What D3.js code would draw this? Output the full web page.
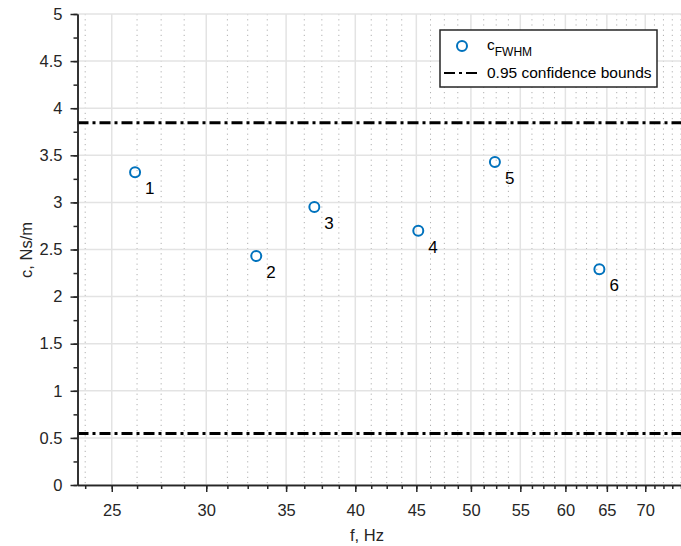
<!DOCTYPE html>
<html>
<head>
<meta charset="utf-8">
<script src="https://cdn.jsdelivr.net/npm/d3@7"></script>
<style>
  html, body { margin: 0; padding: 0; background: #fff; }
  svg { display: block; font-family: "Liberation Sans", Arial, sans-serif; }
</style>
</head>
<body>
<svg id="chart" width="681" height="546"></svg>
<script>
// ---- data ----
const pointLabels = ["1", "2", "3", "4", "5", "6"];
const frequency = [26.15, 33.04, 36.96, 45.17, 52.37, 64.07];
const damping = [3.32, 2.43, 2.95, 2.70, 3.43, 2.29];
const confidenceBounds = [3.845, 0.547];
const xTickValues = [25, 30, 35, 40, 45, 50, 55, 60, 65, 70];
const xMinorValues = d3.range(23.75, 75.01, 1.25);
const yTickValues = [0, 0.5, 1, 1.5, 2, 2.5, 3, 3.5, 4, 4.5, 5];
const yMinorValues = d3.range(0, 5.001, 0.25);
const xDomain = [23.4, 75];
const yDomain = [0, 5];

// ---- layout ----
const svg = d3.select("#chart");
const mLeft = 77.5, mRight = 681, mTop = 14, mBottom = 485;
const x = d3.scaleLog().domain(xDomain).range([mLeft, mRight]);
const y = d3.scaleLinear().domain(yDomain).range([mBottom, mTop]);
const axisColor = "#262626";

// minor x grid (dotted)
svg.append("g").selectAll("line")
  .data(xMinorValues.filter(v => !xTickValues.some(t => Math.abs(t - v) < 1e-6)))
  .join("line")
  .attr("x1", d => x(d)).attr("x2", d => x(d))
  .attr("y1", mTop).attr("y2", mBottom)
  .attr("stroke", "#b0b0b0").attr("stroke-width", 1)
  .attr("stroke-dasharray", "1.2,4");

// major grid
svg.append("g").selectAll("line")
  .data(xTickValues).join("line")
  .attr("x1", d => x(d)).attr("x2", d => x(d))
  .attr("y1", mTop).attr("y2", mBottom)
  .attr("stroke", "#e3e3e3").attr("stroke-width", 1.5);
svg.append("g").selectAll("line")
  .data(yTickValues).join("line")
  .attr("x1", mLeft).attr("x2", mRight)
  .attr("y1", d => y(d)).attr("y2", d => y(d))
  .attr("stroke", "#e3e3e3").attr("stroke-width", 1.5);

// confidence bounds
svg.append("g").selectAll("line")
  .data(confidenceBounds).join("line")
  .attr("x1", mLeft).attr("x2", mRight)
  .attr("y1", d => y(d)).attr("y2", d => y(d))
  .attr("stroke", "#000").attr("stroke-width", 3)
  .attr("stroke-dasharray", "11,4,3,4");

// axes
const xAxis = d3.axisBottom(x).tickValues(xTickValues).tickFormat(d3.format("d")).tickSize(7).tickSizeOuter(0);
const gx = svg.append("g").attr("transform", `translate(0,${mBottom})`).call(xAxis);
const xMinorAxis = d3.axisBottom(x).tickValues(xMinorValues).tickFormat("").tickSize(4).tickSizeOuter(0);
const gxm = svg.append("g").attr("transform", `translate(0,${mBottom})`).call(xMinorAxis);
const yAxis = d3.axisLeft(y).tickValues(yTickValues).tickFormat(d3.format("")).tickSize(7).tickPadding(8).tickSizeOuter(0);
const gy = svg.append("g").attr("transform", `translate(${mLeft},0)`).call(yAxis);
const yMinorAxis = d3.axisLeft(y).tickValues(yMinorValues).tickFormat("").tickSize(4).tickSizeOuter(0);
const gym = svg.append("g").attr("transform", `translate(${mLeft},0)`).call(yMinorAxis);

[gx, gxm, gy, gym].forEach(g => {
  g.select(".domain").attr("stroke", axisColor).attr("stroke-width", 1.5);
  g.selectAll(".tick line").attr("stroke", axisColor).attr("stroke-width", 1.5);
  g.selectAll("text").attr("fill", axisColor).style("font-size", "16.5px")
    .style("font-family", "'Liberation Sans', Arial, sans-serif");
});
gx.selectAll("text").attr("y", 31).attr("dy", 0);

// axis labels
svg.append("text").attr("x", 367).attr("y", 541)
  .attr("text-anchor", "middle").attr("fill", axisColor)
  .style("font-size", "16.5px").text("f, Hz");
svg.append("text").attr("transform", "translate(32,250) rotate(-90)")
  .attr("text-anchor", "middle").attr("fill", axisColor)
  .style("font-size", "16.5px").text("c, Ns/m");

// points
const pts = frequency.map((f, i) => ({ f, c: damping[i], label: pointLabels[i] }));
svg.append("g").selectAll("circle").data(pts).join("circle")
  .attr("cx", d => x(d.f)).attr("cy", d => y(d.c)).attr("r", 5)
  .attr("fill", "none").attr("stroke", "#0072BD").attr("stroke-width", 2);
svg.append("g").selectAll("text").data(pts).join("text")
  .attr("x", d => x(d.f) + 10).attr("y", d => y(d.c) + 22)
  .attr("fill", "#000").style("font-size", "17px").text(d => d.label);

// legend
const lg = svg.append("g");
lg.append("rect").attr("x", 440).attr("y", 30).attr("width", 217).attr("height", 57)
  .attr("fill", "#fff").attr("stroke", "#262626").attr("stroke-width", 1.5);
lg.append("circle").attr("cx", 462).attr("cy", 46).attr("r", 5)
  .attr("fill", "none").attr("stroke", "#0072BD").attr("stroke-width", 2);
const lt = lg.append("text").attr("x", 487).attr("y", 50).attr("fill", "#000").style("font-size", "15.5px");
lt.append("tspan").text("c");
lt.append("tspan").attr("dy", 6).style("font-size", "12px").text("FWHM");
lg.append("line").attr("x1", 444).attr("x2", 481).attr("y1", 73).attr("y2", 73)
  .attr("stroke", "#000").attr("stroke-width", 2).attr("stroke-dasharray", "11,4,3,4");
lg.append("text").attr("x", 487).attr("y", 78).attr("fill", "#000")
  .style("font-size", "15.5px").text("0.95 confidence bounds");
</script>
</body>
</html>
